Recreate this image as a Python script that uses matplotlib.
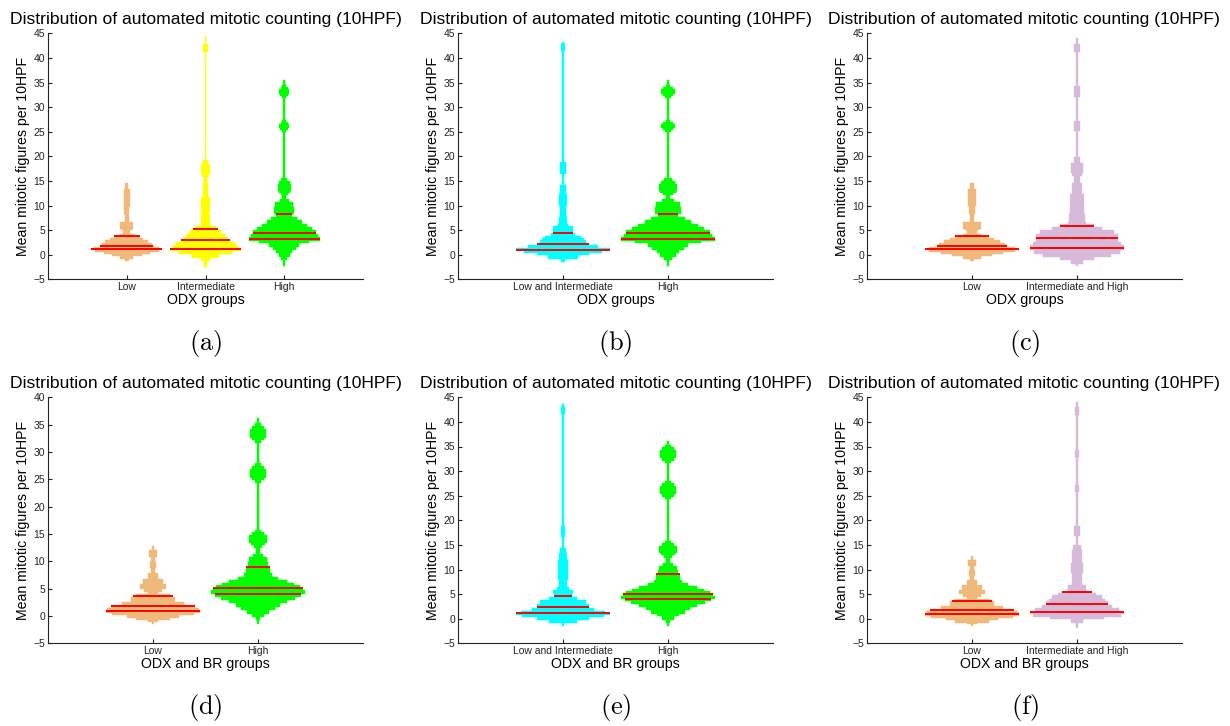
import numpy as np
import matplotlib
matplotlib.use("Agg")
import matplotlib.pyplot as plt

# =======================================================
# Data: stepped density profiles
# (bin edges in mitotic figures, relative width 0..1 per bin)
# =======================================================
LOW_ODX_EDGES = [-1.3, -0.8, -0.3, 0.1, 0.6, 0.9, 1.2, 1.5, 1.9, 2.3, 2.9, 3.3, 3.8,
                 4.2, 5.0, 5.3, 6.6, 8.3, 10.0, 13.4, 14.5]
LOW_ODX_W = [0.05, 0.19, 0.42, 0.65, 0.9, 1.0, 0.92, 0.75, 0.7, 0.6, 0.47, 0.37,
             0.2, 0.1, 0.15, 0.19, 0.05, 0.07, 0.09, 0.04]
LOW_ODX_Q = [1.1, 1.8, 3.7]

INT_ODX_EDGES = [-2.6, -1.3, -0.6, 0.05, 0.7, 1.3, 1.9, 2.5, 3.0, 3.6, 4.3, 5.0, 5.3,
                 5.9, 8.0, 8.6, 11.7, 14.7, 15.7, 16.5, 18.5, 19.3, 41.1, 42.9, 44.4]
INT_ODX_W = [0.03, 0.14, 0.37, 0.75, 1.0, 0.93, 0.82, 0.7, 0.6, 0.56, 0.45, 0.34,
             0.3, 0.13, 0.09, 0.13, 0.06, 0.03, 0.09, 0.14, 0.07, 0.015, 0.06, 0.015]
INT_ODX_Q = [1.1, 3.0, 5.2]

HIGH_ODX_EDGES = [-2.2, -1.15, -0.45, 0.25, 0.9, 1.6, 2.3, 2.8, 3.6, 4.3, 5.0, 5.6,
                  6.3, 7.0, 7.6, 8.3, 9.7, 10.7, 11.4, 12.1, 12.5, 13.0, 14.3, 14.9,
                  15.6, 24.9, 25.3, 25.7, 26.6, 27.0, 27.4, 31.9, 32.3, 32.7, 33.7,
                  34.1, 34.5, 35.6]
HIGH_ODX_W = [0.03, 0.09, 0.16, 0.23, 0.33, 0.42, 0.7, 1.0, 0.94, 0.89, 0.77, 0.63,
              0.49, 0.37, 0.22, 0.28, 0.25, 0.12, 0.05, 0.1, 0.16, 0.19, 0.15, 0.08,
              0.024, 0.06, 0.11, 0.14, 0.1, 0.05, 0.024, 0.06, 0.11, 0.14, 0.1,
              0.05, 0.03]
HIGH_ODX_Q = [3.1, 4.5, 8.2]

LOWINT_ODX_EDGES = [-1.5, -0.8, -0.15, 0.3, 0.9, 1.3, 1.9, 2.4, 2.9, 3.4, 3.9, 4.4,
                    5.8, 6.3, 7.7, 9.0, 10.0, 12.4, 14.1, 16.5, 18.8, 41.5, 42.8, 43.2]
LOWINT_ODX_W = [0.05, 0.31, 0.56, 0.83, 1.0, 0.74, 0.55, 0.48, 0.44, 0.39, 0.26,
                0.21, 0.11, 0.09, 0.07, 0.056, 0.09, 0.056, 0.012, 0.056, 0.012,
                0.035, 0.012]
LOWINT_ODX_Q = [1.0, 2.2, 4.5]

INTHIGH_ODX_EDGES = [-2.3, -1.8, -1.1, -0.5, 0.2, 0.9, 1.9, 2.6, 4.3, 5.0, 5.6, 6.2,
                     6.6, 8.3, 12.4, 14.6, 16.0, 16.6, 18.6, 19.8, 25.1, 27.1, 32.1,
                     34.2, 41.1, 42.9, 44.1]
INTHIGH_ODX_W = [0.03, 0.12, 0.37, 0.72, 0.92, 1.0, 0.93, 0.86, 0.78, 0.53, 0.37,
                 0.2, 0.165, 0.15, 0.11, 0.07, 0.1, 0.12, 0.06, 0.02, 0.053, 0.02,
                 0.053, 0.02, 0.053, 0.02]
INTHIGH_ODX_Q = [1.3, 3.4, 5.8]

LOW_BR_EDGES = [-1.5, -1.1, -0.8, -0.3, 0.13, 0.55, 1.05, 1.5, 2.0, 2.6, 3.5, 3.7,
                4.0, 4.4, 5.0, 5.9, 6.8, 7.8, 8.7, 9.9, 10.8, 12.0, 12.8]
LOW_BR_W = [0.02, 0.1, 0.35, 0.56, 0.86, 1.0, 0.98, 0.88, 0.65, 0.46, 0.42, 0.35,
            0.1, 0.2, 0.27, 0.21, 0.105, 0.035, 0.07, 0.035, 0.08, 0.02]
LOW_BR_Q = [0.9, 1.75, 3.6]

HIGH_BR_EDGES = [-1.4, -0.8, -0.2, 0.45, 1.05, 1.7, 2.3, 2.9, 3.5, 4.05, 4.7, 5.2,
                 5.6, 6.1, 6.6, 7.2, 7.8, 9.0, 9.9, 10.8, 11.4, 12.4, 12.9, 13.4,
                 14.8, 15.3, 15.8, 24.3, 24.8, 25.3, 26.9, 27.5, 28.0, 31.6, 32.1,
                 32.6, 34.2, 34.8, 35.3, 36.2]
HIGH_BR_W = [0.015, 0.05, 0.12, 0.23, 0.37, 0.47, 0.62, 0.78, 0.9, 1.0, 0.96, 0.88,
             0.77, 0.61, 0.42, 0.3, 0.25, 0.21, 0.18, 0.1, 0.05, 0.09, 0.15, 0.18,
             0.13, 0.07, 0.03, 0.07, 0.13, 0.17, 0.12, 0.06, 0.03, 0.07, 0.13,
             0.175, 0.12, 0.06, 0.03]
HIGH_BR_Q = [4.0, 5.1, 9.0]

LOWINT_BR_EDGES = [-1.5, -0.8, -0.3, 0.3, 0.8, 1.2, 1.6, 2.1, 3.0, 3.7, 4.5, 5.0,
                   5.9, 6.5, 7.9, 12.0, 13.3, 14.4, 16.6, 18.9, 41.6, 43.0, 43.7]
LOWINT_BR_W = [0.02, 0.29, 0.55, 0.86, 1.0, 0.88, 0.66, 0.56, 0.49, 0.29, 0.2,
               0.22, 0.12, 0.085, 0.1, 0.085, 0.056, 0.014, 0.05, 0.014, 0.035, 0.014]
LOWINT_BR_Q = [1.1, 2.3, 4.6]

INTHIGH_BR_EDGES = [-1.8, -0.8, -0.1, 0.4, 0.96, 1.4, 2.1, 2.8, 3.5, 4.1, 4.8, 5.3,
                    5.5, 6.9, 9.3, 11.3, 14.0, 15.0, 16.8, 18.9, 25.7, 27.1, 32.8,
                    34.2, 41.4, 43.0, 44.0]
INTHIGH_BR_W = [0.02, 0.12, 0.58, 0.93, 1.0, 0.88, 0.74, 0.66, 0.6, 0.53, 0.4,
                0.32, 0.18, 0.1, 0.12, 0.11, 0.09, 0.02, 0.06, 0.015, 0.035, 0.015,
                0.035, 0.015, 0.035, 0.015]
INTHIGH_BR_Q = [1.3, 3.0, 5.4]

ORANGE = "#EEB97B"
YELLOW = "#FFFF00"
GREEN = "#00FF00"
CYAN = "#00FFFF"
PURPLE = "#D7B9D9"

DISTS = {
    "low_odx":     (LOW_ODX_EDGES, LOW_ODX_W, LOW_ODX_Q, ORANGE),
    "int_odx":     (INT_ODX_EDGES, INT_ODX_W, INT_ODX_Q, YELLOW),
    "high_odx":    (HIGH_ODX_EDGES, HIGH_ODX_W, HIGH_ODX_Q, GREEN),
    "lowint_odx":  (LOWINT_ODX_EDGES, LOWINT_ODX_W, LOWINT_ODX_Q, CYAN),
    "inthigh_odx": (INTHIGH_ODX_EDGES, INTHIGH_ODX_W, INTHIGH_ODX_Q, PURPLE),
    "low_br":      (LOW_BR_EDGES, LOW_BR_W, LOW_BR_Q, ORANGE),
    "high_br":     (HIGH_BR_EDGES, HIGH_BR_W, HIGH_BR_Q, GREEN),
    "lowint_br":   (LOWINT_BR_EDGES, LOWINT_BR_W, LOWINT_BR_Q, CYAN),
    "inthigh_br":  (INTHIGH_BR_EDGES, INTHIGH_BR_W, INTHIGH_BR_Q, PURPLE),
}

# panel: (dist keys, tick labels, xlabel, ymax, caption)
PANELS = [
    (["low_odx", "int_odx", "high_odx"], ["Low", "Intermediate", "High"], "ODX groups", 45, "(a)"),
    (["lowint_odx", "high_odx"], ["Low and Intermediate", "High"], "ODX groups", 45, "(b)"),
    (["low_odx", "inthigh_odx"], ["Low", "Intermediate and High"], "ODX groups", 45, "(c)"),
    (["low_br", "high_br"], ["Low", "High"], "ODX and BR groups", 40, "(d)"),
    (["lowint_br", "high_br"], ["Low and Intermediate", "High"], "ODX and BR groups", 45, "(e)"),
    (["low_br", "inthigh_br"], ["Low", "Intermediate and High"], "ODX and BR groups", 45, "(f)"),
]

TITLE = "Distribution of automated mitotic counting (10HPF)"
YLABEL = "Mean mitotic figures per 10HPF"
HALF_MAX = 0.45

# =======================================================
# Style
# =======================================================
plt.rcParams.update({
    "font.family": ["Liberation Sans", "DejaVu Sans"],
    "mathtext.fontset": "cm",
    "axes.edgecolor": "#222222",
    "axes.linewidth": 0.8,
    "xtick.color": "#222222",
    "ytick.color": "#222222",
})

W, H = 1230, 726
fig = plt.figure(figsize=(W / 100, H / 100), dpi=100)

col_left = [48, 458, 867]
row_top = [33.3, 397.3]
ax_w, ax_h = 315, 246

for k, (keys, labels, xlab, ymax, cap) in enumerate(PANELS):
    r, c = divmod(k, 3)
    left = col_left[c] / W
    bottom = 1 - (row_top[r] + ax_h) / H
    ax = fig.add_axes([left, bottom, ax_w / W, ax_h / H])

    for i, key in enumerate(keys):
        edges, widths, quart, colour = DISTS[key]
        x0 = i + 1
        hw = HALF_MAX * np.array(widths)
        ax.stairs(x0 + hw, edges, baseline=x0 - hw, fill=True,
                  orientation="horizontal", facecolor=colour, edgecolor=colour,
                  linewidth=0.3)
        for q in quart:
            j = min(np.searchsorted(edges, q) - 1, len(widths) - 1)
            qw = HALF_MAX * widths[max(j, 0)]
            ax.plot([x0 - qw, x0 + qw], [q, q], color="red", lw=1.4,
                    solid_capstyle="butt")

    n = len(keys)
    ax.set_xlim(0, n + 1)
    ax.set_ylim(-5, ymax)
    ax.set_yticks(np.arange(-5, ymax + 1, 5))
    ax.set_xticks(np.arange(1, n + 1))
    ax.set_xticklabels(labels, fontsize=7.5)
    ax.tick_params(axis="y", labelsize=7.5, direction="in", length=3, pad=2)
    ax.tick_params(axis="x", direction="in", length=3, pad=2)
    for s in ("top", "right"):
        ax.spines[s].set_visible(False)

    ax.set_title(TITLE, fontsize=12.6, pad=7)
    ax.set_ylabel(YLABEL, fontsize=10.2, labelpad=2.5)
    ax.set_xlabel(xlab, fontsize=10.2, labelpad=1)

    cx = (col_left[c] + ax_w / 2) / W
    cy = 1 - (row_top[r] + ax_h + 64) / H
    fig.text(cx, cy, r"$\mathrm{" + cap + "}$", fontsize=19, ha="center", va="center")

fig.savefig("out.png", dpi=100)
